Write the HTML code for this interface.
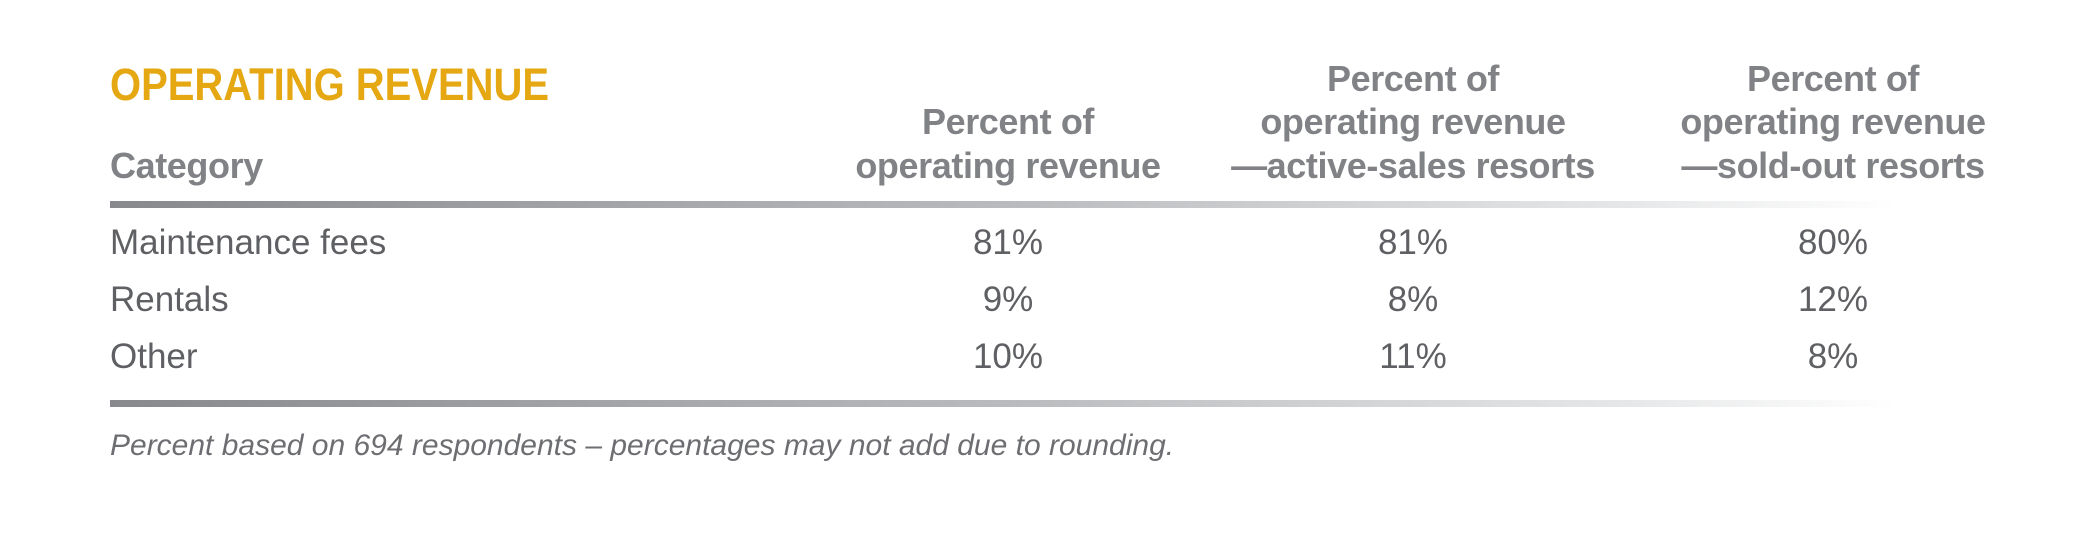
<!DOCTYPE html>
<html><head><meta charset="utf-8"><style>
html,body{margin:0;padding:0;background:#fff;width:2100px;height:540px;overflow:hidden}
</style></head><body>
<svg width="2100" height="540" xmlns="http://www.w3.org/2000/svg" font-family="Liberation Sans, sans-serif">
<defs>
<linearGradient id="g" x1="0" x2="1" y1="0" y2="0">
<stop offset="0" stop-color="#87898c"/>
<stop offset="0.5" stop-color="#b9babd"/>
<stop offset="0.85" stop-color="#e6e7e8"/>
<stop offset="1" stop-color="#ffffff"/>
</linearGradient>
</defs>
<text x="110" y="100" fill="#e5a712" font-size="45" font-weight="bold" textLength="439" lengthAdjust="spacingAndGlyphs">OPERATING REVENUE</text>
<g fill="#808285" font-size="36" font-weight="bold" letter-spacing="-0.4">
<text x="110" y="178">Category</text>
<g text-anchor="middle">
<text x="1008" y="134">Percent of</text>
<text x="1008" y="178">operating revenue</text>
<text x="1413" y="91">Percent of</text>
<text x="1413" y="134">operating revenue</text>
<text x="1413" y="178">—active-sales resorts</text>
<text x="1833" y="91">Percent of</text>
<text x="1833" y="134">operating revenue</text>
<text x="1833" y="178">—sold-out resorts</text>
</g>
</g>
<rect x="110" y="201" width="1785" height="7" fill="url(#g)"/>
<g fill="#5f6063" font-size="35">
<text x="110" y="254">Maintenance fees</text>
<text x="110" y="311">Rentals</text>
<text x="110" y="368">Other</text>
<g text-anchor="middle">
<text x="1008" y="254">81%</text><text x="1413" y="254">81%</text><text x="1833" y="254">80%</text>
<text x="1008" y="311">9%</text><text x="1413" y="311">8%</text><text x="1833" y="311">12%</text>
<text x="1008" y="368">10%</text><text x="1413" y="368">11%</text><text x="1833" y="368">8%</text>
</g>
</g>
<rect x="110" y="400" width="1785" height="7" fill="url(#g)"/>
<text x="110" y="455" fill="#6d6e71" font-size="30" font-style="italic">Percent based on 694 respondents – percentages may not add due to rounding.</text>
</svg>
</body></html>
